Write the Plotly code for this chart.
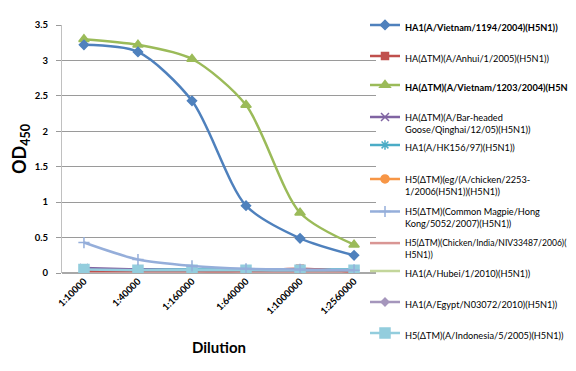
import plotly.graph_objects as go

categories = ["1:10000", "1:40000", "1:160000", "1:640000", "1:1000000", "1:2560000"]

names = [
    "<b>HA1(A/Vietnam/1194/2004)(H5N1))</b>",
    "HA(ΔTM)(A/Anhui/1/2005)(H5N1))",
    "<b>HA(ΔTM)(A/Vietnam/1203/2004)(H5N1)</b>",
    "HA(ΔTM)(A/Bar-headed<br>Goose/Qinghai/12/05)(H5N1))",
    "HA1(A/HK156/97)(H5N1))",
    "H5(ΔTM)(eg/(A/chicken/2253-<br>1/2006(H5N1))(H5N1))",
    "H5(ΔTM)(Common Magpie/Hong<br>Kong/5052/2007)(H5N1))",
    "H5(ΔTM)(Chicken/India/NIV33487/2006)(<br>H5N1))",
    "HA1(A/Hubei/1/2010)(H5N1))",
    "HA1(A/Egypt/N03072/2010)(H5N1))",
    "H5(ΔTM)(A/Indonesia/5/2005)(H5N1))",
]

vietnam1194 = [3.22, 3.12, 2.43, 0.95, 0.49, 0.25]
anhui = [0.03, 0.03, 0.03, 0.03, 0.06, 0.02]
vietnam1203 = [3.30, 3.22, 3.02, 2.37, 0.85, 0.40]
qinghai = [0.07, 0.05, 0.04, 0.04, 0.04, 0.04]
hk156 = [0.05, 0.05, 0.05, 0.05, 0.05, 0.05]
chicken2253 = [0.04, 0.04, 0.04, 0.04, 0.04, 0.03]
magpie = [0.43, 0.19, 0.10, 0.06, 0.05, 0.04]
india = [0.02, 0.02, 0.02, 0.02, 0.02, 0.02]
hubei = [0.03, 0.03, 0.03, 0.03, 0.03, 0.03]
egypt = [0.03, 0.03, 0.03, 0.03, 0.03, 0.03]
indonesia = [0.05, 0.04, 0.04, 0.04, 0.04, 0.04]

y_ticks = [0, 0.5, 1, 1.5, 2, 2.5, 3, 3.5]
y_ticktext = ["0", "0.5", "1", "1.5", "2", "2.5", "3", "3.5"]

series = [vietnam1194, anhui, vietnam1203, qinghai, hk156, chicken2253,
          magpie, india, hubei, egypt, indonesia]
colors = ["#4F81BD", "#C0504D", "#9BBB59", "#8064A2", "#4BACC6", "#F79646",
          "#95AEDA", "#D99694", "#C3D69B", "#A596BC", "#93CDDD"]
symbols = ["diamond", "square", "triangle-up", "x-thin", "asterisk", "circle",
           "cross-thin", None, None, "diamond", "square"]
msizes = [7, 7, 9, 8, 8, 8, 8, 0, 0, 6, 10]

# legend entry vertical centres (pixels from top of the 371px page)
legend_centres = [19, 50, 79, 115, 139, 177, 209.5, 241, 265, 296, 327]
legend_fontsizes = [9.2, 9.2, 9.2, 9.2, 9.2, 9.2, 9.2, 8.6, 9.2, 9.2, 9.2]

PLOT_TOP, PLOT_BOTTOM, PLOT_LEFT, PLOT_RIGHT = 17, 265, 54, 368
PH = PLOT_BOTTOM - PLOT_TOP
PW = PLOT_RIGHT - PLOT_LEFT

fig = go.Figure()
order = [7, 8, 9, 5, 4, 3, 1, 10, 6, 2, 0]  # draw main curves on top
for i in order:
    nm, ys = names[i], series[i]
    mode = "lines+markers" if symbols[i] else "lines"
    marker = None
    if symbols[i]:
        marker = dict(color=colors[i], size=msizes[i], symbol=symbols[i],
                      line=dict(color=colors[i], width=1.5))
    lg = "legend" if i == 0 else f"legend{i + 1}"
    fig.add_trace(go.Scatter(
        x=categories, y=ys, name=nm, mode=mode, showlegend=True,
        line=dict(color=colors[i], width=2.5, shape="spline", smoothing=0.8),
        marker=marker, legend=lg,
    ))

legend_layouts = {}
for i, yc in enumerate(legend_centres):
    lg = "legend" if i == 0 else f"legend{i + 1}"
    legend_layouts[lg] = dict(
        x=(357 - PLOT_LEFT) / PW, y=(PLOT_BOTTOM - yc) / PH,
        xanchor="left", yanchor="middle", valign="top",
        font=dict(size=legend_fontsizes[i], family="Lato, sans-serif", color="#000"),
        itemwidth=30, bgcolor="rgba(0,0,0,0)", borderwidth=0, visible=True,
    )

fig.update_layout(
    width=576, height=371, showlegend=True,
    margin=dict(l=PLOT_LEFT, r=576 - PLOT_RIGHT, t=PLOT_TOP, b=371 - PLOT_BOTTOM,
                autoexpand=False),
    paper_bgcolor="white", plot_bgcolor="white",
    font=dict(family="Lato, Liberation Sans, sans-serif", color="#000"),
    xaxis=dict(type="category", categoryorder="array", categoryarray=categories,
               tickangle=-45, tickfont=dict(size=9.5, weight="bold"),
               showgrid=False, showline=False, ticks="", automargin=False),
    yaxis=dict(range=[0, 3.5], tickvals=y_ticks, ticktext=y_ticktext,
               tickfont=dict(size=9.5, weight="bold"), automargin=False,
               showgrid=True, gridcolor="#9a9a9a", gridwidth=1,
               zeroline=True, zerolinecolor="#a8a8a8",
               showline=True, linecolor="#c0c0c0",
               ticks="outside", ticklen=5, tickcolor="#9a9a9a",
               ticklabelstandoff=6),
    annotations=[
        dict(text="<b>OD<sub>450</sub></b>", xref="paper", yref="paper",
             x=(12 - PLOT_LEFT) / PW, y=0.5, textangle=-90, showarrow=False,
             font=dict(size=18), xanchor="center", yanchor="middle"),
        dict(text="<b>Dilution</b>", xref="paper", yref="paper",
             x=(211 - PLOT_LEFT) / PW, y=(PLOT_BOTTOM - 339) / PH, showarrow=False,
             font=dict(size=15), xanchor="center", yanchor="middle"),
    ],
    **legend_layouts,
)
fig.write_html("out.html")
